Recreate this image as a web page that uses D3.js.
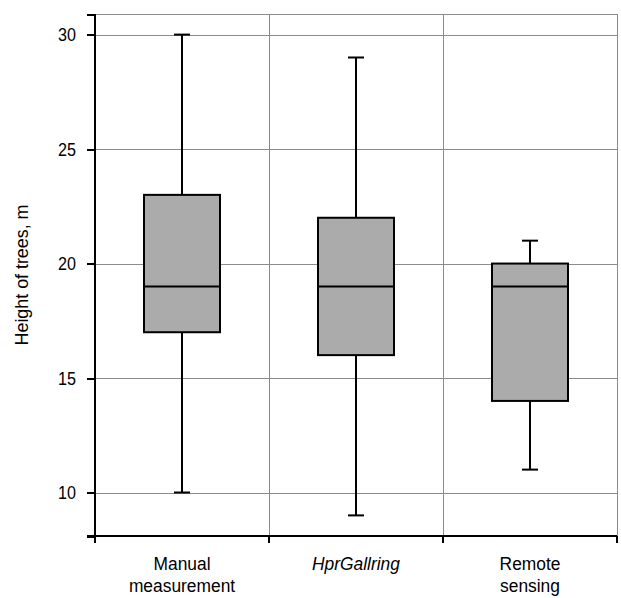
<!DOCTYPE html>
<meta charset="utf-8">
<title>Height of trees</title>
<style>

body {
  margin: 0;
  background: #fff;
  font-family: "Liberation Sans", Arial, sans-serif;
}

.grid line {
  stroke: #8c8c8c;
  stroke-width: 1;
  shape-rendering: crispEdges;
}

.axis path,
.axis line {
  fill: none;
  stroke: #000;
  stroke-width: 2;
  shape-rendering: crispEdges;
}

.axis text {
  fill: #000;
  font-size: 19px;
}

.box rect {
  fill: #ababab;
  stroke: #000;
  stroke-width: 2;
}

.box line {
  stroke: #000;
  stroke-width: 2;
}

</style>
<body>
<svg id="chart" width="621" height="598"></svg>

<script src="https://d3js.org/d3.v7.min.js"></script>
<script>

// data
var groups  = ["Manual measurement", "HprGallring", "Remote sensing"];
var mins    = [10, 9, 11];
var q1s     = [17, 16, 14];
var medians = [19, 19, 19];
var q3s     = [23, 22, 20];
var maxs    = [30, 29, 21];
var yTicks  = [10, 15, 20, 25, 30];

var plotL = 95, plotR = 617, plotT = 14, plotB = 536;
// the source text is a bit narrow for its height
var squeeze = 0.94, tickSqueeze = 0.85;

var svg = d3.select("#chart");

var x = d3.scaleBand()
    .domain(groups)
    .range([plotL, plotR])
    .padding(0);

var y = d3.scaleLinear()
    .domain([8.1, 30.9])
    .range([plotB, plotT]);

var data = groups.map(function(g, i) {
  return {name: g, min: mins[i], q1: q1s[i], med: medians[i], q3: q3s[i], max: maxs[i]};
});

// grid: horizontal lines, vertical band boundaries, top and right border
var grid = svg.append("g").attr("class", "grid");

grid.selectAll(".h")
    .data(yTicks.concat([y.domain()[1]]))
  .enter().append("line")
    .attr("x1", plotL)
    .attr("x2", plotR)
    .attr("y1", function(d) { return Math.round(y(d)) + 0.5; })
    .attr("y2", function(d) { return Math.round(y(d)) + 0.5; });

grid.selectAll(".v")
    .data(groups.slice(1).map(function(g) { return x(g); }).concat([plotR]))
  .enter().append("line")
    .attr("x1", function(d) { return d; })
    .attr("x2", function(d) { return d; })
    .attr("y1", plotT)
    .attr("y2", plotB);

// y axis
var yAxis = d3.axisLeft(y)
    .tickValues(yTicks.concat(y.domain()))
    .tickSize(8)
    .tickPadding(11)
    .tickFormat(function(d) { return yTicks.indexOf(d) >= 0 ? d : ""; });

svg.append("g")
    .attr("class", "axis y")
    .attr("transform", "translate(" + plotL + ",0)")
    .call(yAxis)
    .call(function(g) {
      g.select(".domain").attr("d", "M0," + plotT + "V" + plotB);
      g.selectAll(".tick text")
          .attr("x", 0)
          .attr("transform", "translate(-19,0) scale(" + tickSqueeze + ",1)");
    });

// x axis: ticks at band boundaries
var xAxisG = svg.append("g")
    .attr("class", "axis x")
    .attr("transform", "translate(0," + plotB + ")");

xAxisG.append("path")
    .attr("class", "domain")
    .attr("d", "M" + (plotL - 8) + ",0H" + plotR);

xAxisG.selectAll(".tick")
    .data(groups.map(function(g) { return x(g); }).concat([plotR]))
  .enter().append("line")
    .attr("x1", function(d) { return d; })
    .attr("x2", function(d) { return d; })
    .attr("y1", 0)
    .attr("y2", 7);

var labels = xAxisG.selectAll(".label")
    .data(groups)
  .enter().append("text")
    .attr("class", "label")
    .attr("transform", function(d) {
      return "translate(" + (x(d) + x.bandwidth() / 2) + ",34) scale(" + squeeze + ",1)";
    })
    .style("text-anchor", "middle")
    .style("font-size", "18.5px")
    .style("font-style", function(d) { return d === "HprGallring" ? "italic" : "normal"; });

labels.each(function(d) {
  var words = d === "HprGallring" ? [d] : d.split(" ");
  var t = d3.select(this);
  words.forEach(function(w, i) {
    t.append("tspan")
        .attr("x", 0)
        .attr("dy", i === 0 ? 0 : 22)
        .text(w);
  });
});

// y axis title
svg.append("text")
    .attr("transform", "translate(27.5," + ((plotT + plotB) / 2) + ") rotate(-90) scale(" + squeeze + ",1)")
    .style("text-anchor", "middle")
    .style("font-size", "19px")
    .text("Height of trees, m");

// boxes
var boxW = 76, capW = 16;

var box = svg.selectAll(".box")
    .data(data)
  .enter().append("g")
    .attr("class", "box")
    .attr("transform", function(d) { return "translate(" + (x(d.name) + x.bandwidth() / 2) + ",0)"; });

box.append("line")
    .attr("x1", 0).attr("x2", 0)
    .attr("y1", function(d) { return y(d.max); })
    .attr("y2", function(d) { return y(d.min); });

box.append("line")
    .attr("x1", -capW / 2).attr("x2", capW / 2)
    .attr("y1", function(d) { return y(d.max); })
    .attr("y2", function(d) { return y(d.max); });

box.append("line")
    .attr("x1", -capW / 2).attr("x2", capW / 2)
    .attr("y1", function(d) { return y(d.min); })
    .attr("y2", function(d) { return y(d.min); });

box.append("rect")
    .attr("x", -boxW / 2)
    .attr("width", boxW)
    .attr("y", function(d) { return y(d.q3); })
    .attr("height", function(d) { return y(d.q1) - y(d.q3); });

box.append("line")
    .attr("x1", -boxW / 2).attr("x2", boxW / 2)
    .attr("y1", function(d) { return y(d.med); })
    .attr("y2", function(d) { return y(d.med); });

</script>
</body>
